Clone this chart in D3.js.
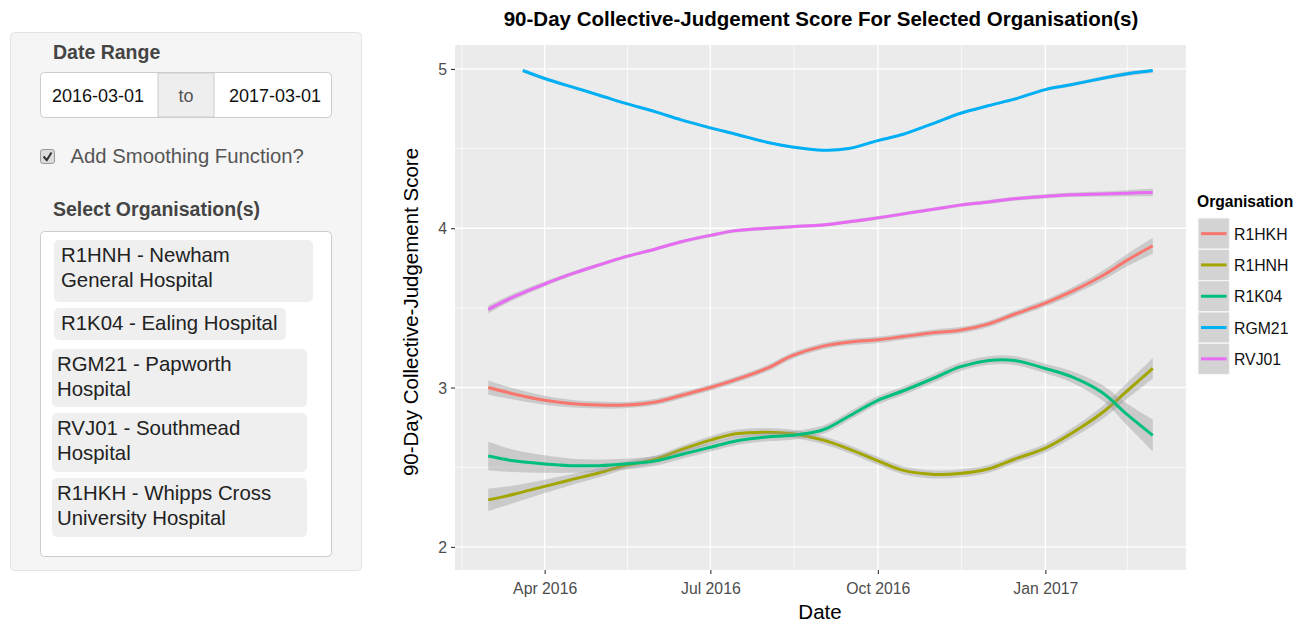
<!DOCTYPE html>
<html>
<head>
<meta charset="utf-8">
<script src="https://cdnjs.cloudflare.com/ajax/libs/d3/7.8.5/d3.min.js"></script>
<style>
  body { margin: 0; background: #fff; }
  svg text { font-family: "Liberation Sans", Arial, Helvetica, sans-serif; }
</style>
</head>
<body>
<div id="page"></div>
<script>
// ---- data ----
var dates = ["2016-03-01","2016-03-15","2016-04-01","2016-04-15","2016-05-01","2016-05-15",
  "2016-06-01","2016-06-15","2016-07-01","2016-07-15","2016-08-01","2016-08-15","2016-09-01",
  "2016-09-15","2016-10-01","2016-10-15","2016-11-01","2016-11-15","2016-12-01","2016-12-15",
  "2017-01-01","2017-01-15","2017-02-01","2017-02-15","2017-03-01"];
var rgm21Dates = ["2016-03-20"].concat(dates.slice(2));

var r1hkh   = [3.00,2.96,2.92,2.90,2.89,2.89,2.91,2.95,3.00,3.05,3.12,3.20,3.26,3.285,3.30,3.32,3.345,3.36,3.40,3.46,3.53,3.60,3.70,3.80,3.89];
var r1hkhSe = [.045,.035,.028,.024,.022,.02,.02,.02,.02,.02,.02,.02,.02,.02,.02,.02,.02,.02,.02,.02,.022,.025,.03,.038,.05];
var r1hnh   = [2.295,2.33,2.38,2.42,2.465,2.51,2.55,2.61,2.67,2.71,2.72,2.71,2.67,2.615,2.54,2.48,2.455,2.46,2.49,2.55,2.62,2.71,2.84,2.98,3.12];
var r1hnhSe = [.07,.055,.042,.034,.028,.025,.024,.024,.025,.025,.025,.025,.025,.025,.025,.025,.025,.025,.025,.025,.027,.032,.04,.05,.065];
var r1k04   = [2.57,2.54,2.52,2.51,2.51,2.52,2.54,2.58,2.625,2.665,2.69,2.70,2.735,2.82,2.92,2.98,3.06,3.13,3.17,3.17,3.12,3.07,2.97,2.83,2.70];
var r1k04Se = [.09,.07,.055,.045,.038,.033,.03,.028,.027,.027,.027,.027,.027,.027,.027,.027,.027,.027,.027,.028,.03,.036,.048,.068,.1];
var rgm21   = [4.99,4.94,4.89,4.835,4.785,4.73,4.68,4.63,4.59,4.54,4.51,4.49,4.50,4.55,4.59,4.66,4.72,4.77,4.81,4.87,4.90,4.94,4.97,4.99];
var rgm21Se = [.012,.01,.009,.008,.008,.008,.008,.008,.008,.008,.008,.008,.008,.008,.008,.008,.008,.008,.009,.01,.011,.012,.014,.016];
var rvj01   = [3.49,3.57,3.65,3.71,3.77,3.82,3.87,3.915,3.955,3.985,4.00,4.01,4.02,4.04,4.065,4.09,4.12,4.145,4.165,4.185,4.20,4.21,4.215,4.22,4.225];
var rvj01Se = [.025,.02,.016,.013,.012,.011,.011,.011,.011,.011,.011,.011,.011,.011,.011,.011,.011,.011,.012,.012,.013,.014,.016,.019,.024];

var orgCodes = ["R1HKH", "R1HNH", "R1K04", "RGM21", "RVJ01"];
var orgColors = ["#F8766D", "#A3A500", "#00BF7D", "#00B0F6", "#E76BF3"];

var xTickDates = ["2016-04-01", "2016-07-01", "2016-10-01", "2017-01-01"];
var xTickLabels = ["Apr 2016", "Jul 2016", "Oct 2016", "Jan 2017"];
var yTicks = [2, 3, 4, 5];

var dateFrom = "2016-03-01", dateTo = "2017-03-01";
var selectedOrgs = [
  ["R1HNH - Newham", "General Hospital"],
  ["R1K04 - Ealing Hospital"],
  ["RGM21 - Papworth", "Hospital"],
  ["RVJ01 - Southmead", "Hospital"],
  ["R1HKH - Whipps Cross", "University Hospital"]
];

// ---- build series ----
var parse = d3.timeParse("%Y-%m-%d");
function makeSeries(ds, vals, se) {
  return vals.map(function(v, i) { return { date: parse(ds[i]), v: v, se: se[i] }; });
}
var series = [
  makeSeries(dates, r1hkh, r1hkhSe),
  makeSeries(dates, r1hnh, r1hnhSe),
  makeSeries(dates, r1k04, r1k04Se),
  makeSeries(rgm21Dates, rgm21, rgm21Se),
  makeSeries(dates, rvj01, rvj01Se)
];

const width = 1298, height = 624;
const svg = d3.select("#page").append("svg")
  .attr("width", width)
  .attr("height", height);

// ---- left side panel (shiny inputs) ----
var side = svg.append("g");
side.append("rect")
  .attr("x", 10.5).attr("y", 32.5).attr("width", 351).attr("height", 538)
  .attr("rx", 4).attr("fill", "#f5f5f5").attr("stroke", "#e3e3e3");

side.append("text").attr("x", 53).attr("y", 59)
  .style("font-size", "19.5px").style("font-weight", "bold").attr("fill", "#444")
  .text("Date Range");

// date range input group
side.append("rect")
  .attr("x", 40.5).attr("y", 72.5).attr("width", 291).attr("height", 45)
  .attr("rx", 4).attr("fill", "#fff").attr("stroke", "#ccc");
side.append("rect")
  .attr("x", 158).attr("y", 73).attr("width", 56).attr("height", 44)
  .attr("fill", "#eee").attr("stroke", "#ccc");
side.append("text").attr("x", 52).attr("y", 102)
  .style("font-size", "18px").attr("fill", "#111").text(dateFrom);
side.append("text").attr("x", 186).attr("y", 102).attr("text-anchor", "middle")
  .style("font-size", "18px").attr("fill", "#555").text("to");
side.append("text").attr("x", 229).attr("y", 102)
  .style("font-size", "18px").attr("fill", "#111").text(dateTo);

// checkbox
side.append("rect")
  .attr("x", 40.5).attr("y", 149.5).attr("width", 14).attr("height", 14)
  .attr("rx", 2.5).attr("fill", "#dcdcdc").attr("stroke", "#9a9a9a");
side.append("path")
  .attr("d", "M43.5,156.5 L46.8,160 L51.5,152.5")
  .attr("fill", "none").attr("stroke", "#333").attr("stroke-width", 2);
side.append("text").attr("x", 70.5).attr("y", 163)
  .style("font-size", "20.3px").attr("fill", "#555").text("Add Smoothing Function?");

side.append("text").attr("x", 53).attr("y", 216)
  .style("font-size", "19.5px").style("font-weight", "bold").attr("fill", "#444")
  .text("Select Organisation(s)");

side.append("rect")
  .attr("x", 40.5).attr("y", 231.5).attr("width", 291).attr("height", 325)
  .attr("rx", 4).attr("fill", "#fff").attr("stroke", "#ccc");

// selected items (box positions from the picture)
var itemBoxes = [
  { x: 54, y: 240, w: 259, h: 62, tx: 61 },
  { x: 54, y: 308, w: 232, h: 32, tx: 61 },
  { x: 52, y: 349, w: 255, h: 58, tx: 57 },
  { x: 52, y: 413, w: 255, h: 59, tx: 57 },
  { x: 52, y: 478, w: 255, h: 59, tx: 57 }
];
var items = side.selectAll("g.item")
  .data(selectedOrgs)
  .enter().append("g").attr("class", "item");
items.append("rect")
  .attr("x", function(d, i) { return itemBoxes[i].x; })
  .attr("y", function(d, i) { return itemBoxes[i].y; })
  .attr("width", function(d, i) { return itemBoxes[i].w; })
  .attr("height", function(d, i) { return itemBoxes[i].h; })
  .attr("rx", 5).attr("fill", "#efefef");
items.each(function(lines, i) {
  var b = itemBoxes[i];
  d3.select(this).selectAll("text")
    .data(lines)
    .enter().append("text")
    .attr("x", b.tx)
    .attr("y", function(d, j) { return b.y + 22 + j * 25; })
    .style("font-size", "20.4px").attr("fill", "#222")
    .text(function(d) { return d; });
});

// ---- chart ----
var panel = { left: 455, right: 1186, top: 45, bottom: 570 };

var start = parse(dateFrom), end = parse(dateTo);
var pad = (end - start) * 0.05;
var x = d3.scaleTime()
  .domain([new Date(+start - pad), new Date(+end + pad)])
  .range([panel.left, panel.right]);
var y = d3.scaleLinear()
  .domain([1.855, 5.15])
  .range([panel.bottom, panel.top]);

svg.append("rect")
  .attr("x", panel.left).attr("y", panel.top)
  .attr("width", panel.right - panel.left).attr("height", panel.bottom - panel.top)
  .attr("fill", "#EBEBEB");

var xMajors = xTickDates.map(parse);
var ext = [d3.timeMonth.offset(xMajors[0], -3)].concat(xMajors, [d3.timeMonth.offset(xMajors[xMajors.length - 1], 3)]);
var xMinors = [];
for (var i = 0; i < ext.length - 1; i++) {
  xMinors.push(new Date((+ext[i] + +ext[i + 1]) / 2));
}
xMinors = xMinors.filter(function(d) { return x(d) > panel.left && x(d) < panel.right; });
var yMinors = [];
for (var k = 0; k < yTicks.length - 1; k++) yMinors.push((yTicks[k] + yTicks[k + 1]) / 2);

var grid = svg.append("g");
grid.selectAll(".ymin").data(yMinors).enter().append("line")
  .attr("x1", panel.left).attr("x2", panel.right)
  .attr("y1", function(d) { return y(d); }).attr("y2", function(d) { return y(d); })
  .attr("stroke", "#fff").attr("stroke-width", 0.7);
grid.selectAll(".xmin").data(xMinors).enter().append("line")
  .attr("y1", panel.top).attr("y2", panel.bottom)
  .attr("x1", function(d) { return x(d); }).attr("x2", function(d) { return x(d); })
  .attr("stroke", "#fff").attr("stroke-width", 0.7);
grid.selectAll(".ymaj").data(yTicks).enter().append("line")
  .attr("x1", panel.left).attr("x2", panel.right)
  .attr("y1", function(d) { return y(d); }).attr("y2", function(d) { return y(d); })
  .attr("stroke", "#fff").attr("stroke-width", 1.4);
grid.selectAll(".xmaj").data(xMajors).enter().append("line")
  .attr("y1", panel.top).attr("y2", panel.bottom)
  .attr("x1", function(d) { return x(d); }).attr("x2", function(d) { return x(d); })
  .attr("stroke", "#fff").attr("stroke-width", 1.4);

// smooth lines with ribbons
var curve = d3.curveCatmullRom.alpha(0.5);
var area = d3.area()
  .curve(curve)
  .x(function(d) { return x(d.date); })
  .y0(function(d) { return y(d.v - d.se); })
  .y1(function(d) { return y(Math.min(d.v + d.se, 5.0)); });
var line = d3.line()
  .curve(curve)
  .x(function(d) { return x(d.date); })
  .y(function(d) { return y(d.v); });

series.forEach(function(s, i) {
  svg.append("path").attr("d", area(s))
    .attr("fill", "#999").attr("fill-opacity", 0.4);
  svg.append("path").attr("d", line(s))
    .attr("fill", "none").attr("stroke", orgColors[i]).attr("stroke-width", 3);
});

// axes
var xAxis = svg.append("g")
  .attr("transform", "translate(0," + panel.bottom + ")")
  .call(d3.axisBottom(x).tickValues(xMajors).tickSize(4).tickPadding(5)
    .tickFormat(function(d, i) { return xTickLabels[i]; }));
var yAxis = svg.append("g")
  .attr("transform", "translate(" + panel.left + ",0)")
  .call(d3.axisLeft(y).tickValues(yTicks).tickSize(4).tickPadding(4).tickFormat(d3.format("d")));
[xAxis, yAxis].forEach(function(a) {
  a.select(".domain").remove();
  a.selectAll(".tick line").attr("stroke", "#333").attr("stroke-width", 1.1);
  a.selectAll(".tick text").attr("fill", "#4d4d4d")
    .style("font-size", "15.8px")
    .style("font-family", "'Liberation Sans', Arial, sans-serif");
});
xAxis.selectAll(".tick text").attr("dy", null).attr("y", 24);
yAxis.selectAll(".tick text").attr("dy", null).attr("y", 5.6);

// titles
svg.append("text")
  .attr("x", 821).attr("y", 26).attr("text-anchor", "middle")
  .style("font-size", "20.5px").style("font-weight", "bold").attr("fill", "#000")
  .text("90-Day Collective-Judgement Score For Selected Organisation(s)");
svg.append("text")
  .attr("x", 820).attr("y", 619).attr("text-anchor", "middle")
  .style("font-size", "20.5px").attr("fill", "#000")
  .text("Date");
svg.append("text")
  .attr("transform", "translate(418,312) rotate(-90)")
  .attr("text-anchor", "middle")
  .style("font-size", "20.5px").attr("fill", "#000")
  .text("90-Day Collective-Judgement Score");

// legend
var legend = svg.append("g");
legend.append("text")
  .attr("x", 1197).attr("y", 207)
  .style("font-size", "15.6px").style("font-weight", "bold").attr("fill", "#000")
  .text("Organisation");
var keyH = 31.3, keyTop = 218;
var keys = legend.selectAll("g.key")
  .data(orgCodes)
  .enter().append("g").attr("class", "key")
  .attr("transform", function(d, i) { return "translate(1198," + (keyTop + i * keyH) + ")"; });
keys.append("rect")
  .attr("width", 31.5).attr("height", keyH)
  .attr("fill", "#d3d3d3").attr("stroke", "#f7f7f7").attr("stroke-width", 1.2);
keys.append("line")
  .attr("x1", 3).attr("x2", 28.5)
  .attr("y1", keyH / 2).attr("y2", keyH / 2)
  .attr("stroke", function(d, i) { return orgColors[i]; })
  .attr("stroke-width", 3);
keys.append("text")
  .attr("x", 36).attr("y", keyH / 2 + 6)
  .style("font-size", "15.8px").attr("fill", "#111")
  .text(function(d) { return d; });
</script>
</body>
</html>
